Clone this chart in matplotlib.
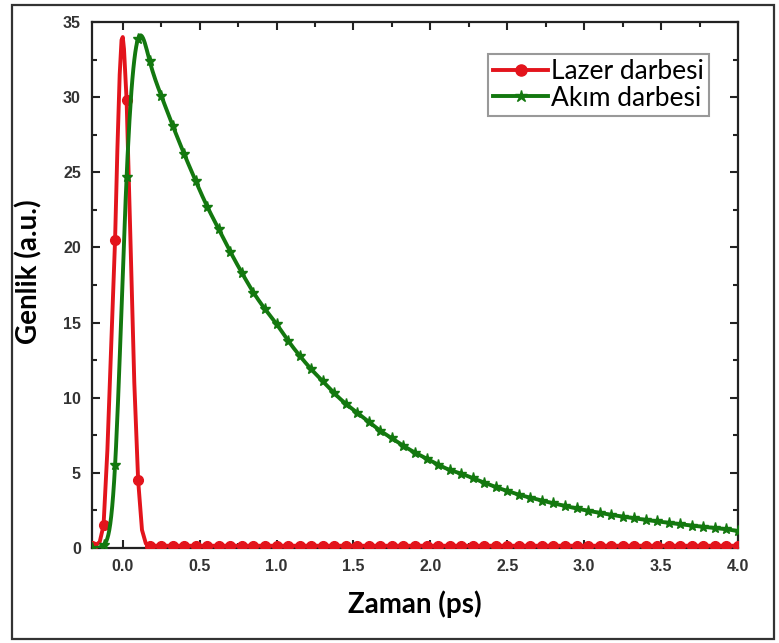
import numpy as np
import matplotlib
matplotlib.use("Agg")
import matplotlib.pyplot as plt
from matplotlib.ticker import MultipleLocator
from matplotlib.patches import Rectangle

# ---------------- data ----------------
time_ps = [-0.2, -0.125, -0.05, 0.025, 0.1, 0.175, 0.25, 0.325, 0.4, 0.475,
           0.55, 0.625, 0.7, 0.775, 0.85, 0.925, 1.0, 1.075, 1.15, 1.225,
           1.3, 1.375, 1.45, 1.525, 1.6, 1.675, 1.75, 1.825, 1.9, 1.975,
           2.05, 2.125, 2.2, 2.275, 2.35, 2.425, 2.5, 2.575, 2.65, 2.725,
           2.8, 2.875, 2.95, 3.025, 3.1, 3.175, 3.25, 3.325, 3.4, 3.475,
           3.55, 3.625, 3.7, 3.775, 3.85, 3.925, 4.0]

# marker values of the laser pulse
lazer = [0.15, 1.5, 20.5, 29.8, 4.5, 0.15, 0.15, 0.15, 0.15, 0.15,
         0.15, 0.15, 0.15, 0.15, 0.15, 0.15, 0.15, 0.15, 0.15, 0.15,
         0.15, 0.15, 0.15, 0.15, 0.15, 0.15, 0.15, 0.15, 0.15, 0.15,
         0.15, 0.15, 0.15, 0.15, 0.15, 0.15, 0.15, 0.15, 0.15, 0.15,
         0.15, 0.15, 0.15, 0.15, 0.15, 0.15, 0.15, 0.15, 0.15, 0.15,
         0.15, 0.15, 0.15, 0.15, 0.15, 0.15, 0.15]

# laser pulse connecting curve
lazer_curve_t = [-0.2, -0.175, -0.15, -0.125, -0.1, -0.075, -0.05, -0.035,
                 -0.02, -0.008, 0.0, 0.008, 0.015, 0.025, 0.05, 0.075, 0.1,
                 0.125, 0.15, 0.175, 1.0, 2.0, 3.0, 4.0]
lazer_curve_y = [0.15, 0.2, 0.4, 1.5, 6.5, 13.5, 20.5, 26.5,
                 31.5, 33.8, 34.0, 33.2, 31.8, 29.8, 20.5, 11.0, 4.5,
                 1.2, 0.3, 0.15, 0.15, 0.15, 0.15, 0.15]

akim = [0.0, 0.2, 5.5, 24.7, 33.9, 32.4, 30.1, 28.1, 26.2, 24.4,
        22.7, 21.2, 19.7, 18.3, 17.0, 15.9, 14.9, 13.8, 12.8, 11.9,
        11.1, 10.3, 9.6, 9.0, 8.4, 7.8, 7.3, 6.8, 6.35, 5.95,
        5.55, 5.2, 4.95, 4.65, 4.35, 4.05, 3.8, 3.55, 3.35, 3.15,
        2.97, 2.8, 2.63, 2.48, 2.34, 2.21, 2.09, 1.98, 1.87, 1.77,
        1.67, 1.58, 1.49, 1.41, 1.33, 1.25, 1.12]

series_names = ["Lazer darbesi", "Akım darbesi"]
x_ticks = [0.0, 0.5, 1.0, 1.5, 2.0, 2.5, 3.0, 3.5, 4.0]
y_ticks = [0, 5, 10, 15, 20, 25, 30, 35]


def natural_spline(x, y, n_per=12):
    """Smooth connecting curve through the points (drawing style only)."""
    x = np.asarray(x, float)
    y = np.asarray(y, float)
    n = len(x)
    h = np.diff(x)
    A = np.zeros((n, n))
    b = np.zeros(n)
    A[0, 0] = A[-1, -1] = 1.0
    for i in range(1, n - 1):
        A[i, i - 1] = h[i - 1]
        A[i, i] = 2 * (h[i - 1] + h[i])
        A[i, i + 1] = h[i]
        b[i] = 6 * ((y[i + 1] - y[i]) / h[i] - (y[i] - y[i - 1]) / h[i - 1])
    M = np.linalg.solve(A, b)
    xs, ys = [], []
    for i in range(n - 1):
        t = np.linspace(x[i], x[i + 1], n_per, endpoint=False)
        a = x[i + 1] - t
        c = t - x[i]
        s = (M[i] * a ** 3 + M[i + 1] * c ** 3) / (6 * h[i]) \
            + (y[i] / h[i] - M[i] * h[i] / 6) * a \
            + (y[i + 1] / h[i] - M[i + 1] * h[i] / 6) * c
        xs.append(t)
        ys.append(s)
    xs.append([x[-1]])
    ys.append([y[-1]])
    return np.concatenate(xs), np.concatenate(ys)


W, H = 779, 643
fig = plt.figure(figsize=(W / 100, H / 100), dpi=100)
fig.patch.set_facecolor("white")

# outer frame of the picture
fig.patches.append(Rectangle((12 / W, 4 / H), (774 - 12) / W, (638 - 4) / H,
                             transform=fig.transFigure, fill=False,
                             edgecolor="#333333", linewidth=1.6))

ax = fig.add_axes([92 / W, 1 - 548 / H, (738 - 92) / W, (548 - 22) / H])

red = "#e3141c"
green = "#13780f"
LW = 2.8

gx, gy = natural_spline(time_ps, akim)

ax.plot(lazer_curve_t, lazer_curve_y, color=red, lw=LW, zorder=3,
        solid_joinstyle="round")
ax.plot(time_ps, lazer, linestyle="none", marker="o", color=red,
        markersize=7, zorder=3)
ax.plot(gx, gy, color=green, lw=LW, zorder=4)
ax.plot(time_ps, akim, linestyle="none", marker="*", color=green,
        markersize=8, zorder=4)

# legend proxies
h1, = ax.plot([], [], color=red, lw=LW, marker="o", markersize=8)
h2, = ax.plot([], [], color=green, lw=LW, marker="*", markersize=9)
leg = ax.legend([h1, h2], series_names, loc="upper right",
                bbox_to_anchor=(709 / W, 1 - 54 / H), bbox_transform=fig.transFigure,
                prop={"family": "Lato", "size": 19}, frameon=True, fancybox=False,
                edgecolor="#808080", handlelength=2.1, handletextpad=0.1,
                borderpad=0.2, labelspacing=0.05, borderaxespad=0.0)
leg.get_frame().set_linewidth(1.5)

ax.set_xlim(-0.2, 4.0)
ax.set_ylim(0, 35)
ax.set_xticks(x_ticks)
ax.set_yticks(y_ticks)
ax.set_xticklabels([f"{v:.1f}" for v in x_ticks])
ax.set_yticklabels([str(v) for v in y_ticks])
ax.xaxis.set_minor_locator(MultipleLocator(0.25))
ax.yaxis.set_minor_locator(MultipleLocator(2.5))
ax.tick_params(which="both", direction="in", top=True, right=True,
               color="#222222", width=1.5)
ax.tick_params(which="major", length=6, labelsize=11.5, labelcolor="#333333", pad=8)
ax.tick_params(which="minor", length=3.5)
for lab in ax.get_xticklabels() + ax.get_yticklabels():
    lab.set_fontweight("bold")
    lab.set_family("Liberation Sans")
for sp in ax.spines.values():
    sp.set_linewidth(1.6)
    sp.set_color("#222222")

ax.set_xlabel("Zaman (ps)", family="Lato", fontweight="bold", fontsize=20,
              labelpad=12)
ax.set_ylabel("Genlik (a.u.)", family="Lato", fontweight="bold", fontsize=20)
ax.yaxis.set_label_coords(-0.077, 0.525)

fig.savefig("out.png", dpi=100)
